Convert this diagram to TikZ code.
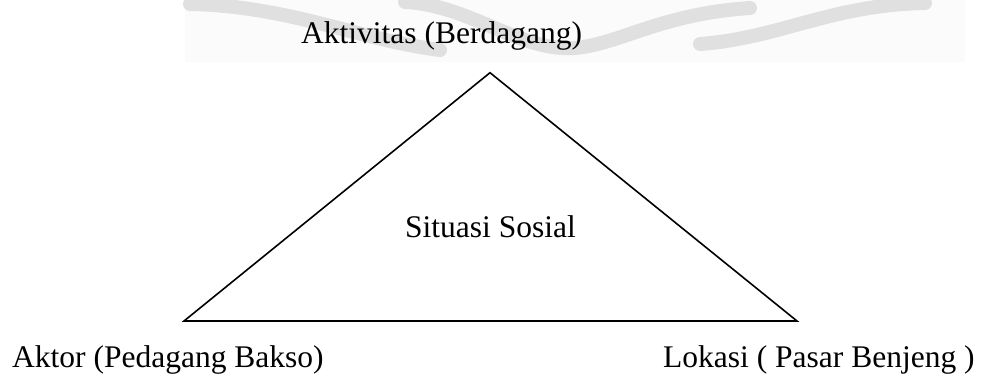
\documentclass[tikz,border=0pt]{standalone}
\usepackage{fontspec}
\setmainfont{Liberation Serif}
\tikzset{
  lbl/.style={font=\fontsize{31.5}{36}\selectfont, inner sep=0pt, anchor=base west},
  wm/.style={draw=black!12, line width=14pt, line cap=round},
  tri/.style={draw=black, line width=1.6pt, line join=miter}
}
\begin{document}
\begin{tikzpicture}[x=1pt,y=1pt]
\useasboundingbox (0,0) rectangle (981,376);
% faint watermark bands (image coordinates, y downwards)
\begin{scope}[shift={(0,376)}, yscale=-1]
  \fill[black!1.5] (185,0) rectangle (965,62);
  \draw[wm] (190,4) .. controls (290,6) and (360,40) .. (440,50);
  \draw[wm] (405,2) .. controls (470,5) and (520,52) .. (575,48) .. controls (620,44) and (660,14) .. (750,8);
  \draw[wm] (700,44) .. controls (780,38) and (830,5) .. (925,3);
\end{scope}
% triangle
\coordinate (top) at (490,303.3);
\coordinate (bl) at (184,55);
\coordinate (br) at (797,55);
\draw[tri] (top) -- (br) -- (bl) -- cycle;
% labels
\node[lbl] (act) at (301,333) {Aktivitas (Berdagang)};
\node[lbl] (akt) at (12,9) {Aktor (Pedagang Bakso)};
\node[lbl] (lok) at (663,9) {Lokasi ( Pasar Benjeng )};
\node[lbl] (sit) at (405,139) {Situasi Sosial};
\end{tikzpicture}
\end{document}
